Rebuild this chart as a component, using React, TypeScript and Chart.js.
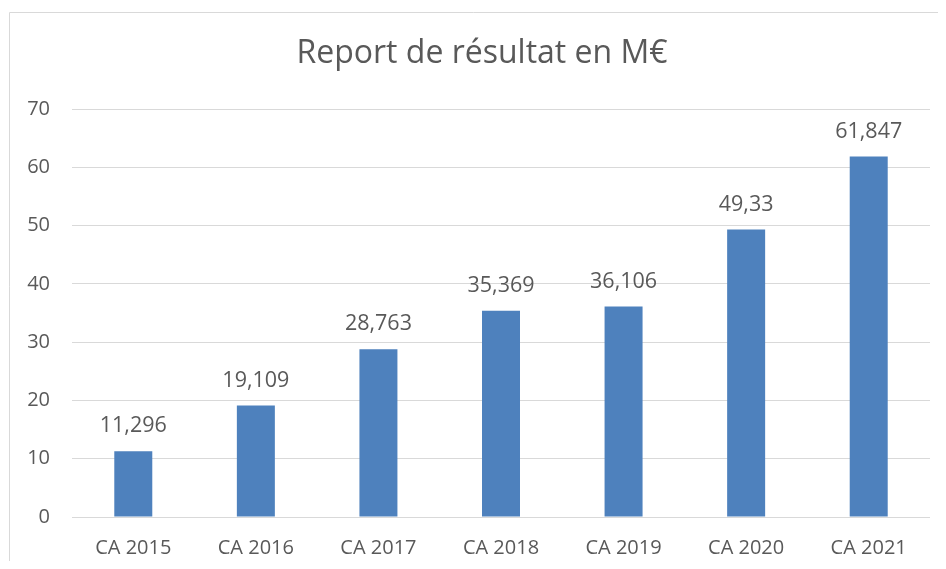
import React, { useEffect, useRef } from "react";
import { Chart, registerables } from "chart.js";

Chart.register(...registerables);

const categories = ["CA 2015", "CA 2016", "CA 2017", "CA 2018", "CA 2019", "CA 2020", "CA 2021"];
const values = [11.296, 19.109, 28.763, 35.369, 36.106, 49.33, 61.847];
const valueLabels = ["11,296", "19,109", "28,763", "35,369", "36,106", "49,33", "61,847"];
const titleText = "Report de résultat en M€";

const FONT = "'Open Sans', 'DejaVu Sans', sans-serif";
const TEXT = "#595959";

export default function App() {
  const ref = useRef<HTMLCanvasElement | null>(null);

  useEffect(() => {
    if (!ref.current) return;
    const decor = {
      id: "decor",
      beforeDraw(chart: any) {
        const ctx = chart.ctx;
        ctx.save();
        ctx.strokeStyle = "#d9d9d9";
        ctx.lineWidth = 1;
        ctx.beginPath();
        ctx.moveTo(1.5, chart.height);
        ctx.lineTo(1.5, 4.5);
        ctx.lineTo(chart.width, 4.5);
        ctx.stroke();
        ctx.restore();
      },
      afterDraw(chart: any) {
        const ctx = chart.ctx;
        ctx.save();
        ctx.fillStyle = TEXT;
        ctx.textAlign = "center";
        ctx.textBaseline = "middle";
        ctx.font = `32px ${FONT}`;
        ctx.fillText(titleText, 474, 46);
        ctx.font = `21.5px ${FONT}`;
        const meta = chart.getDatasetMeta(0);
        meta.data.forEach((bar: any, i: number) => {
          ctx.fillText(valueLabels[i], bar.x, bar.y - 25);
        });
        ctx.restore();
      },
    };
    const chart = new Chart(ref.current, {
      type: "bar",
      data: {
        labels: categories,
        datasets: [
          {
            data: values,
            backgroundColor: "#4e81bd",
            barPercentage: 0.31,
            categoryPercentage: 1,
          },
        ],
      },
      options: {
        animation: false,
        responsive: false,
        layout: { padding: { left: 0, right: 8, top: 101, bottom: 0 } },
        plugins: { legend: { display: false }, title: { display: false }, tooltip: { enabled: false } },
        scales: {
          x: {
            grid: { display: false, drawTicks: false },
            border: { display: false },
            ticks: { color: TEXT, font: { family: FONT, size: 20 }, padding: 19 },
            afterFit: (s: any) => { s.height = 44; },
          },
          y: {
            min: 0,
            max: 70,
            grid: { color: "#d9d9d9", lineWidth: 1, drawTicks: false },
            border: { display: false },
            ticks: { stepSize: 10, color: TEXT, font: { family: FONT, size: 20 }, padding: 22 },
            afterFit: (s: any) => { s.width = 64; },
          },
        },
      },
      plugins: [decor],
    });
    return () => chart.destroy();
  }, []);

  return <canvas ref={ref} width={930} height={553} style={{ display: "block" }} />;
}
